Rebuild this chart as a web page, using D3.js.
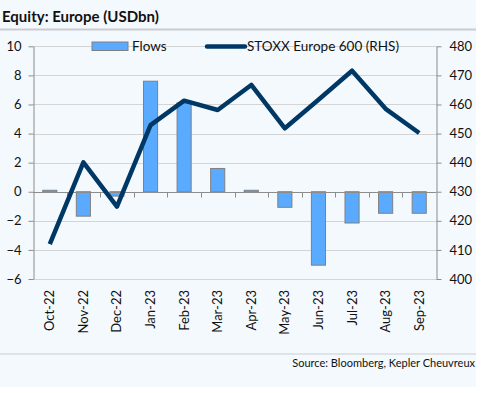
<!DOCTYPE html>
<html>
<head>
<meta charset="utf-8">
<script src="https://cdn.jsdelivr.net/npm/d3@7"></script>
<style>
  body { margin: 0; background: #fff; }
  text { font-family: Lato, "Open Sans", sans-serif; fill: #111; }
</style>
</head>
<body>
<div id="chart"></div>
<script>
// Data
var months = ["Oct-22", "Nov-22", "Dec-22", "Jan-23", "Feb-23", "Mar-23",
              "Apr-23", "May-23", "Jun-23", "Jul-23", "Aug-23", "Sep-23"];
var flows = [0.1, -1.68, -0.3, 7.6, 6.1, 1.6, 0.1, -1.07, -5.05, -2.15, -1.48, -1.48];
var stoxx = [412.0, 440.1, 424.9, 452.9, 461.3, 458.1, 466.7, 451.8, 461.6, 471.6, 458.5, 450.2];
var leftTicks = [-6, -4, -2, 0, 2, 4, 6, 8, 10];
var rightTicks = [400, 410, 420, 430, 440, 450, 460, 470, 480];

// Parameters
var width = 493;
var height = 393;
var plotL = 33, plotR = 436, plotT = 46.3, plotB = 279;
var barColor = "#5aabff";
var lineColor = "#003865";
var gridColor = "#d4d4d4";
var axisColor = "#8c8c8c";

var svg = d3.select("#chart").append("svg")
    .attr("width", width)
    .attr("height", height);

// panel background
svg.append("rect").attr("x", 0).attr("y", 0).attr("width", 476).attr("height", 387)
    .attr("fill", "#f4f9fd");

// title + rules
svg.append("text").attr("x", 2).attr("y", 22)
    .style("font-weight", "bold").style("font-size", "15px")
    .text("Equity: Europe (USDbn)");
svg.append("line").attr("x1", 0).attr("x2", 476).attr("y1", 29.5).attr("y2", 29.5)
    .attr("stroke", "#c9cdd1").attr("stroke-width", 2);
svg.append("line").attr("x1", 0).attr("x2", 476).attr("y1", 354).attr("y2", 354)
    .attr("stroke", "#c9cdd1").attr("stroke-width", 1);
svg.append("text").attr("x", 475).attr("y", 367).attr("text-anchor", "end")
    .style("font-size", "11px")
    .text("Source: Bloomberg, Kepler Cheuvreux");

// Scales
var xScale = d3.scaleBand().domain(months).range([plotL, plotR]).padding(0);
var yScale = d3.scaleLinear().domain([-6, 10]).range([plotB, plotT]);
var y2Scale = d3.scaleLinear().domain([400, 480]).range([plotB, plotT]);

// gridlines
svg.append("g").selectAll("line").data(leftTicks).join("line")
    .attr("x1", plotL).attr("x2", plotR)
    .attr("y1", function(d){ return Math.round(yScale(d)) + 0.5; })
    .attr("y2", function(d){ return Math.round(yScale(d)) + 0.5; })
    .attr("stroke", gridColor).attr("stroke-width", 1);

// Bars
var barW = xScale.bandwidth() * 0.42;
svg.append("g").selectAll("rect").data(flows).join("rect")
    .attr("x", function(d, i){ return xScale(months[i]) + (xScale.bandwidth() - barW) / 2; })
    .attr("y", function(d){ return yScale(Math.max(0, d)); })
    .attr("width", barW)
    .attr("height", function(d){ return Math.abs(yScale(d) - yScale(0)); })
    .attr("fill", barColor)
    .attr("stroke", "#808080").attr("stroke-width", 1);

// zero axis with category boundary ticks
var y0 = Math.round(yScale(0)) + 0.5;
svg.append("line").attr("x1", plotL).attr("x2", plotR).attr("y1", y0).attr("y2", y0)
    .attr("stroke", axisColor);
svg.append("g").selectAll("line").data(months.slice(1)).join("line")
    .attr("x1", function(d){ return Math.round(xScale(d)) + 0.5; })
    .attr("x2", function(d){ return Math.round(xScale(d)) + 0.5; })
    .attr("y1", y0).attr("y2", y0 + 5)
    .attr("stroke", axisColor);

// Left axis
var yAxis = d3.axisLeft(yScale).tickValues(leftTicks).tickSize(5).tickSizeOuter(0).tickPadding(7);
var gy = svg.append("g").attr("transform", "translate(" + (plotL + 0.5) + ",0)").call(yAxis);
// Right axis
var y2Axis = d3.axisRight(y2Scale).tickValues(rightTicks).tickSize(5).tickSizeOuter(0).tickPadding(8);
var gy2 = svg.append("g").attr("transform", "translate(" + (plotR + 0.5) + ",0)").call(y2Axis);
[gy, gy2].forEach(function(g){
    g.selectAll("path").attr("stroke", axisColor);
    g.selectAll("line").attr("stroke", axisColor);
    g.selectAll("text").style("font-size", "13px").style("font-family", "Lato, sans-serif").attr("fill", "#111");
});

// Line
var line = d3.line()
    .x(function(d, i){ return xScale(months[i]) + xScale.bandwidth() / 2; })
    .y(function(d){ return y2Scale(d); });
svg.append("path").datum(stoxx)
    .attr("d", line)
    .attr("fill", "none")
    .attr("stroke", lineColor)
    .attr("stroke-width", 4.5)
    .attr("stroke-linejoin", "round");

// X labels
svg.append("g").selectAll("text").data(months).join("text")
    .attr("transform", function(d){
        return "translate(" + (xScale(d) + xScale.bandwidth() / 2 + 4.5) + ",290)rotate(-90)";
    })
    .attr("text-anchor", "end")
    .style("font-size", "13px")
    .text(function(d){ return d; });

// Legend
svg.append("rect").attr("x", 92).attr("y", 42).attr("width", 36).attr("height", 8.5)
    .attr("fill", barColor).attr("stroke", "#808080");
svg.append("text").attr("x", 132).attr("y", 51).style("font-size", "13.5px").text("Flows");
svg.append("line").attr("x1", 207).attr("x2", 245).attr("y1", 46.5).attr("y2", 46.5)
    .attr("stroke", lineColor).attr("stroke-width", 4.5).attr("stroke-linecap", "round");
svg.append("text").attr("x", 247).attr("y", 51).style("font-size", "13.5px").text("STOXX Europe 600 (RHS)");
</script>
</body>
</html>
